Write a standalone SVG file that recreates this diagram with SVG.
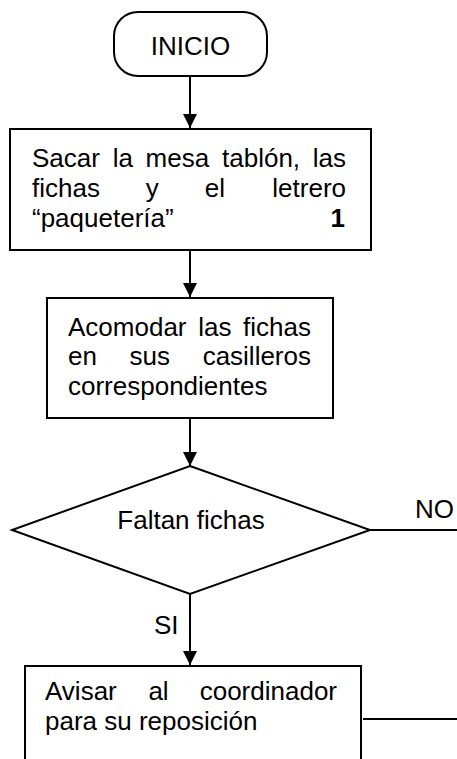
<svg xmlns="http://www.w3.org/2000/svg" width="457" height="759" viewBox="0 0 457 759">
<defs>
<marker id="ah" markerUnits="userSpaceOnUse" markerWidth="16" markerHeight="16" viewBox="0 0 16 16" refX="15" refY="8" orient="auto">
<path d="M1,1 L15,8 L1,15 Z" fill="#000"/>
</marker>
<style>
.box{fill:#fff;stroke:#000;stroke-width:2}
.ln{fill:none;stroke:#000;stroke-width:2}
.t{font-family:"Liberation Sans",Arial,sans-serif;font-size:26px;fill:#000}
.b{font-weight:bold}
</style>
</defs>
<rect width="457" height="759" fill="#fff"/>
<g id="connectors">
<line class="ln" x1="190" y1="77" x2="190" y2="128" marker-end="url(#ah)"/>
<line class="ln" x1="190" y1="250" x2="190" y2="297" marker-end="url(#ah)"/>
<line class="ln" x1="190" y1="418" x2="190" y2="466" marker-end="url(#ah)"/>
<line class="ln" x1="190" y1="594" x2="190" y2="665" marker-end="url(#ah)"/>
<line class="ln" x1="370" y1="530" x2="457" y2="530"/>
<line class="ln" x1="363" y1="719" x2="457" y2="719"/>
<text class="t" x="415" y="518">NO</text>
<text class="t" x="154" y="634">SI</text>
</g>
<g id="inicio">
<rect class="box" x="114" y="12" width="153" height="64" rx="24" ry="24"/>
<text class="t" x="190.5" y="54.5" text-anchor="middle">INICIO</text>
</g>
<g id="sacar">
<rect class="box" x="10" y="129" width="361" height="121"/>
<text class="t" y="166.5"><tspan x="32">Sacar</tspan><tspan x="112.7">la</tspan><tspan x="145.6">mesa</tspan><tspan x="222">tablón,</tspan><tspan x="346" text-anchor="end">las</tspan></text>
<text class="t" y="196.5"><tspan x="32">fichas</tspan><tspan x="145.8">y</tspan><tspan x="204.7">el</tspan><tspan x="346" text-anchor="end">letrero</tspan></text>
<text class="t" y="226.5"><tspan x="32">“paquetería”</tspan></text>
<text class="t b" x="345" y="226.5" text-anchor="end">1</text>
</g>
<g id="acomodar">
<rect class="box" x="47" y="298" width="286" height="120"/>
<text class="t" y="335.5"><tspan x="68">Acomodar</tspan><tspan x="198.2">las</tspan><tspan x="311" text-anchor="end">fichas</tspan></text>
<text class="t" y="365"><tspan x="68">en</tspan><tspan x="129.6">sus</tspan><tspan x="311" text-anchor="end">casilleros</tspan></text>
<text class="t" x="68" y="394.5">correspondientes</text>
</g>
<g id="faltan">
<polygon class="box" points="190,466 370,530 190,594 12,530"/>
<text class="t" x="191" y="529" text-anchor="middle">Faltan fichas</text>
</g>
<g id="avisar">
<rect class="box" x="25" y="666" width="336" height="110"/>
<text class="t" y="700"><tspan x="45">Avisar</tspan><tspan x="148.4">al</tspan><tspan x="337" text-anchor="end">coordinador</tspan></text>
<text class="t" x="45" y="730">para su reposición</text>
</g>
</svg>
